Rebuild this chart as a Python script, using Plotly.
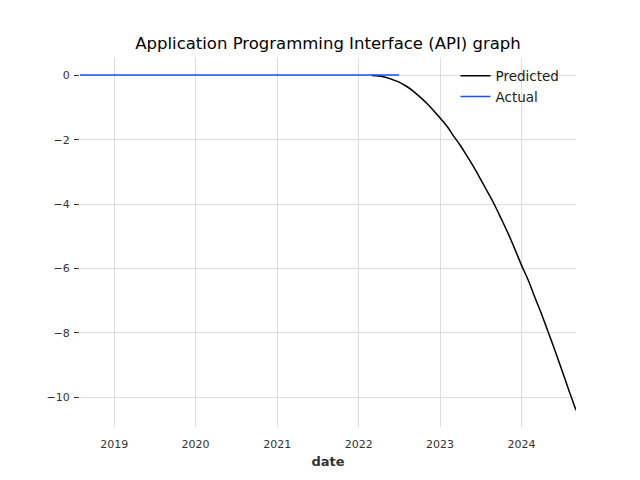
import plotly.graph_objects as go
import pandas as pd

# Actual series (monthly), values near zero
actual_dates = pd.date_range("2018-08-01", "2022-07-01", freq="MS").strftime("%Y-%m-%d").tolist()
actual_values = [0.01] * len(actual_dates)

# Predicted series (monthly)
pred_dates = pd.date_range("2022-03-01", "2024-09-01", freq="MS").strftime("%Y-%m-%d").tolist()
pred_values = [0.00, -0.02, -0.06, -0.13, -0.21, -0.33, -0.48, -0.66, -0.86, -1.08,
               -1.32, -1.58, -1.87, -2.17, -2.50, -2.85, -3.22, -3.61, -4.01, -4.44,
               -4.90, -5.38, -5.90, -6.38, -6.90, -7.44, -8.00, -8.59, -9.18, -9.80,
               -10.40]

title_text = "Application Programming Interface (API) graph"
x_label = "date"

fig = go.Figure()
fig.add_trace(go.Scatter(x=pred_dates, y=pred_values, mode="lines", name="Predicted",
                         line=dict(color="#000000", width=1.5, shape="spline", smoothing=1.0)))
fig.add_trace(go.Scatter(x=actual_dates, y=actual_values, mode="lines", name="Actual",
                         line=dict(color="#1551ff", width=1.5)))

fig.update_layout(
    width=640, height=480,
    paper_bgcolor="white", plot_bgcolor="white",
    margin=dict(l=72, r=72, t=50, b=61),
    font=dict(family="DejaVu Sans", color="#333333", size=11),
    title=dict(text=title_text, x=0.5, xanchor="center", y=0.927, yanchor="middle",
               font=dict(size=16.5, color="#000000")),
    legend=dict(x=0.757, y=0.993, xanchor="left", yanchor="top",
                bgcolor="rgba(0,0,0,0)", font=dict(size=13.5, color="#222222"),
                tracegroupgap=0),
    showlegend=True,
)
fig.update_xaxes(
    range=["2018-08-01", "2024-09-01"],
    showgrid=True, gridcolor="#dddddd", gridwidth=1,
    zeroline=False, showline=False, ticks="",
    dtick="M12", tick0="2019-01-01", tickformat="%Y",
    ticklabelstandoff=9,
    tickfont=dict(size=11, color="#333333"),
    title=dict(text="<b>" + x_label + "</b>", font=dict(size=13, color="#333333"), standoff=6),
)
fig.update_yaxes(
    range=[-10.92, 0.54],
    showgrid=True, gridcolor="#dddddd", gridwidth=1,
    zeroline=False, showline=False,
    ticks="outside", ticklen=5, tickcolor="#333333",
    ticklabelstandoff=2,
    dtick=2, tick0=0,
    tickfont=dict(size=11, color="#333333"),
)

fig.write_html("out.html")
